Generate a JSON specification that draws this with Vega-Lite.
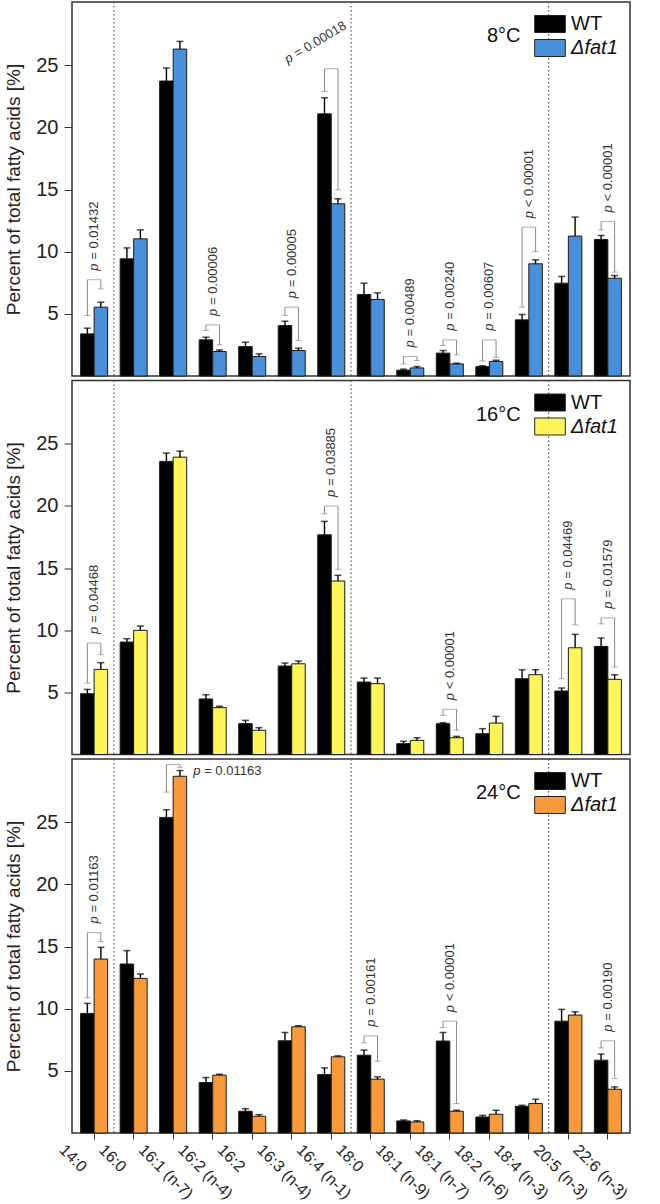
{
  "$schema": "https://vega.github.io/schema/vega-lite/v6.json",
  "padding": {"left": 4, "top": 0, "right": 2, "bottom": 0},
  "spacing": 4.5,
  "bounds": "flush",
  "datasets": {
    "seps": [{"fa": "16:0"}, {"fa": "18:0"}, {"fa": "20:5 (n-3)"}],
    "bars": [
      {"t": "8°C", "fa": "14:0", "g": "WT", "mean": 3.39, "top": 3.85},
      {"t": "8°C", "fa": "14:0", "g": "Δfat1", "mean": 5.54, "top": 5.94},
      {"t": "8°C", "fa": "16:0", "g": "WT", "mean": 9.43, "top": 10.31},
      {"t": "8°C", "fa": "16:0", "g": "Δfat1", "mean": 11.04, "top": 11.76},
      {"t": "8°C", "fa": "16:1 (n-7)", "g": "WT", "mean": 23.74, "top": 24.79},
      {"t": "8°C", "fa": "16:1 (n-7)", "g": "Δfat1", "mean": 26.31, "top": 26.93},
      {"t": "8°C", "fa": "16:2 (n-4)", "g": "WT", "mean": 2.91, "top": 3.12},
      {"t": "8°C", "fa": "16:2 (n-4)", "g": "Δfat1", "mean": 1.97, "top": 2.1},
      {"t": "8°C", "fa": "16:2", "g": "WT", "mean": 2.37, "top": 2.72},
      {"t": "8°C", "fa": "16:2", "g": "Δfat1", "mean": 1.57, "top": 1.78},
      {"t": "8°C", "fa": "16:3 (n-4)", "g": "WT", "mean": 4.06, "top": 4.41},
      {"t": "8°C", "fa": "16:3 (n-4)", "g": "Δfat1", "mean": 2.05, "top": 2.24},
      {"t": "8°C", "fa": "16:4 (n-1)", "g": "WT", "mean": 21.1, "top": 22.39},
      {"t": "8°C", "fa": "16:4 (n-1)", "g": "Δfat1", "mean": 13.86, "top": 14.26},
      {"t": "8°C", "fa": "18:0", "g": "WT", "mean": 6.56, "top": 7.47},
      {"t": "8°C", "fa": "18:0", "g": "Δfat1", "mean": 6.16, "top": 6.69},
      {"t": "8°C", "fa": "18:1 (n-9)", "g": "WT", "mean": 0.47, "top": 0.55},
      {"t": "8°C", "fa": "18:1 (n-9)", "g": "Δfat1", "mean": 0.65, "top": 0.76},
      {"t": "8°C", "fa": "18:1 (n-7)", "g": "WT", "mean": 1.84, "top": 2.05},
      {"t": "8°C", "fa": "18:1 (n-7)", "g": "Δfat1", "mean": 0.97, "top": 1.03},
      {"t": "8°C", "fa": "18:2 (n-6)", "g": "WT", "mean": 0.76, "top": 0.82},
      {"t": "8°C", "fa": "18:2 (n-6)", "g": "Δfat1", "mean": 1.17, "top": 1.27},
      {"t": "8°C", "fa": "18:4 (n-3)", "g": "WT", "mean": 4.52, "top": 4.95},
      {"t": "8°C", "fa": "18:4 (n-3)", "g": "Δfat1", "mean": 9.03, "top": 9.35},
      {"t": "8°C", "fa": "20:5 (n-3)", "g": "WT", "mean": 7.47, "top": 8.01},
      {"t": "8°C", "fa": "20:5 (n-3)", "g": "Δfat1", "mean": 11.26, "top": 12.79},
      {"t": "8°C", "fa": "22:6 (n-3)", "g": "WT", "mean": 10.99, "top": 11.31},
      {"t": "8°C", "fa": "22:6 (n-3)", "g": "Δfat1", "mean": 7.87, "top": 8.09},

      {"t": "16°C", "fa": "14:0", "g": "WT", "mean": 4.89, "top": 5.24},
      {"t": "16°C", "fa": "14:0", "g": "Δfat1", "mean": 6.85, "top": 7.39},
      {"t": "16°C", "fa": "16:0", "g": "WT", "mean": 9.05, "top": 9.32},
      {"t": "16°C", "fa": "16:0", "g": "Δfat1", "mean": 9.99, "top": 10.34},
      {"t": "16°C", "fa": "16:1 (n-7)", "g": "WT", "mean": 23.59, "top": 24.26},
      {"t": "16°C", "fa": "16:1 (n-7)", "g": "Δfat1", "mean": 23.93, "top": 24.42},
      {"t": "16°C", "fa": "16:2 (n-4)", "g": "WT", "mean": 4.47, "top": 4.81},
      {"t": "16°C", "fa": "16:2 (n-4)", "g": "Δfat1", "mean": 3.77, "top": 3.88},
      {"t": "16°C", "fa": "16:2", "g": "WT", "mean": 2.48, "top": 2.75},
      {"t": "16°C", "fa": "16:2", "g": "Δfat1", "mean": 1.95, "top": 2.16},
      {"t": "16°C", "fa": "16:3 (n-4)", "g": "WT", "mean": 7.12, "top": 7.36},
      {"t": "16°C", "fa": "16:3 (n-4)", "g": "Δfat1", "mean": 7.3, "top": 7.52},
      {"t": "16°C", "fa": "16:4 (n-1)", "g": "WT", "mean": 17.68, "top": 18.76},
      {"t": "16°C", "fa": "16:4 (n-1)", "g": "Δfat1", "mean": 13.96, "top": 14.42},
      {"t": "16°C", "fa": "18:0", "g": "WT", "mean": 5.83, "top": 6.15},
      {"t": "16°C", "fa": "18:0", "g": "Δfat1", "mean": 5.7, "top": 6.15},
      {"t": "16°C", "fa": "18:1 (n-9)", "g": "WT", "mean": 0.87, "top": 1.06},
      {"t": "16°C", "fa": "18:1 (n-9)", "g": "Δfat1", "mean": 1.14, "top": 1.35},
      {"t": "16°C", "fa": "18:1 (n-7)", "g": "WT", "mean": 2.48, "top": 2.56},
      {"t": "16°C", "fa": "18:1 (n-7)", "g": "Δfat1", "mean": 1.35, "top": 1.46},
      {"t": "16°C", "fa": "18:2 (n-6)", "g": "WT", "mean": 1.67, "top": 2.08},
      {"t": "16°C", "fa": "18:2 (n-6)", "g": "Δfat1", "mean": 2.53, "top": 3.07},
      {"t": "16°C", "fa": "18:4 (n-3)", "g": "WT", "mean": 6.1, "top": 6.82},
      {"t": "16°C", "fa": "18:4 (n-3)", "g": "Δfat1", "mean": 6.42, "top": 6.82},
      {"t": "16°C", "fa": "20:5 (n-3)", "g": "WT", "mean": 5.11, "top": 5.35},
      {"t": "16°C", "fa": "20:5 (n-3)", "g": "Δfat1", "mean": 8.59, "top": 9.67},
      {"t": "16°C", "fa": "22:6 (n-3)", "g": "WT", "mean": 8.7, "top": 9.37},
      {"t": "16°C", "fa": "22:6 (n-3)", "g": "Δfat1", "mean": 6.05, "top": 6.42},

      {"t": "24°C", "fa": "14:0", "g": "WT", "mean": 9.62, "top": 10.43},
      {"t": "24°C", "fa": "14:0", "g": "Δfat1", "mean": 14.0, "top": 14.94},
      {"t": "24°C", "fa": "16:0", "g": "WT", "mean": 13.6, "top": 14.68},
      {"t": "24°C", "fa": "16:0", "g": "Δfat1", "mean": 12.44, "top": 12.8},
      {"t": "24°C", "fa": "16:1 (n-7)", "g": "WT", "mean": 25.4, "top": 26.02},
      {"t": "24°C", "fa": "16:1 (n-7)", "g": "Δfat1", "mean": 28.71, "top": 29.17},
      {"t": "24°C", "fa": "16:2 (n-4)", "g": "WT", "mean": 4.06, "top": 4.46},
      {"t": "24°C", "fa": "16:2 (n-4)", "g": "Δfat1", "mean": 4.65, "top": 4.73},
      {"t": "24°C", "fa": "16:2", "g": "WT", "mean": 1.75, "top": 1.96},
      {"t": "24°C", "fa": "16:2", "g": "Δfat1", "mean": 1.35, "top": 1.48},
      {"t": "24°C", "fa": "16:3 (n-4)", "g": "WT", "mean": 7.42, "top": 8.09},
      {"t": "24°C", "fa": "16:3 (n-4)", "g": "Δfat1", "mean": 8.55, "top": 8.63},
      {"t": "24°C", "fa": "16:4 (n-1)", "g": "WT", "mean": 4.7, "top": 5.24},
      {"t": "24°C", "fa": "16:4 (n-1)", "g": "Δfat1", "mean": 6.13, "top": 6.21},
      {"t": "24°C", "fa": "18:0", "g": "WT", "mean": 6.26, "top": 6.67},
      {"t": "24°C", "fa": "18:0", "g": "Δfat1", "mean": 4.33, "top": 4.52},
      {"t": "24°C", "fa": "18:1 (n-9)", "g": "WT", "mean": 0.97, "top": 1.05},
      {"t": "24°C", "fa": "18:1 (n-9)", "g": "Δfat1", "mean": 0.89, "top": 0.99},
      {"t": "24°C", "fa": "18:1 (n-7)", "g": "WT", "mean": 7.4, "top": 8.09},
      {"t": "24°C", "fa": "18:1 (n-7)", "g": "Δfat1", "mean": 1.75, "top": 1.83},
      {"t": "24°C", "fa": "18:2 (n-6)", "g": "WT", "mean": 1.29, "top": 1.42},
      {"t": "24°C", "fa": "18:2 (n-6)", "g": "Δfat1", "mean": 1.51, "top": 1.83},
      {"t": "24°C", "fa": "18:4 (n-3)", "g": "WT", "mean": 2.15, "top": 2.23},
      {"t": "24°C", "fa": "18:4 (n-3)", "g": "Δfat1", "mean": 2.37, "top": 2.72},
      {"t": "24°C", "fa": "20:5 (n-3)", "g": "WT", "mean": 9.0, "top": 9.95},
      {"t": "24°C", "fa": "20:5 (n-3)", "g": "Δfat1", "mean": 9.49, "top": 9.76},
      {"t": "24°C", "fa": "22:6 (n-3)", "g": "WT", "mean": 5.86, "top": 6.35},
      {"t": "24°C", "fa": "22:6 (n-3)", "g": "Δfat1", "mean": 3.52, "top": 3.71}
    ],
    "legs": [
      {"t": "8°C", "fa": "14:0", "g": "WT", "cap": 4.87, "top": 7.75},
      {"t": "8°C", "fa": "14:0", "g": "Δfat1", "cap": 7.01, "top": 7.75},
      {"t": "8°C", "fa": "16:2 (n-4)", "g": "WT", "cap": 3.66, "top": 4.11},
      {"t": "8°C", "fa": "16:2 (n-4)", "g": "Δfat1", "cap": 2.51, "top": 4.11},
      {"t": "8°C", "fa": "16:3 (n-4)", "g": "WT", "cap": 4.87, "top": 5.54},
      {"t": "8°C", "fa": "16:3 (n-4)", "g": "Δfat1", "cap": 2.86, "top": 5.54},
      {"t": "8°C", "fa": "16:4 (n-1)", "g": "WT", "cap": 22.9, "top": 24.73},
      {"t": "8°C", "fa": "16:4 (n-1)", "g": "Δfat1", "cap": 14.98, "top": 24.73},
      {"t": "8°C", "fa": "18:1 (n-9)", "g": "WT", "cap": 0.97, "top": 1.57},
      {"t": "8°C", "fa": "18:1 (n-9)", "g": "Δfat1", "cap": 1.25, "top": 1.57},
      {"t": "8°C", "fa": "18:1 (n-7)", "g": "WT", "cap": 2.46, "top": 2.91},
      {"t": "8°C", "fa": "18:1 (n-7)", "g": "Δfat1", "cap": 1.7, "top": 2.91},
      {"t": "8°C", "fa": "18:2 (n-6)", "g": "WT", "cap": 1.2, "top": 2.91},
      {"t": "8°C", "fa": "18:2 (n-6)", "g": "Δfat1", "cap": 1.5, "top": 2.91},
      {"t": "8°C", "fa": "18:4 (n-3)", "g": "WT", "cap": 5.54, "top": 11.98},
      {"t": "8°C", "fa": "18:4 (n-3)", "g": "Δfat1", "cap": 10.02, "top": 11.98},
      {"t": "8°C", "fa": "22:6 (n-3)", "g": "WT", "cap": 11.76, "top": 12.44},
      {"t": "8°C", "fa": "22:6 (n-3)", "g": "Δfat1", "cap": 8.36, "top": 12.44},
      {"t": "16°C", "fa": "14:0", "g": "WT", "cap": 5.75, "top": 8.97},
      {"t": "16°C", "fa": "14:0", "g": "Δfat1", "cap": 8.03, "top": 8.97},
      {"t": "16°C", "fa": "16:4 (n-1)", "g": "WT", "cap": 19.37, "top": 19.99},
      {"t": "16°C", "fa": "16:4 (n-1)", "g": "Δfat1", "cap": 14.9, "top": 19.99},
      {"t": "16°C", "fa": "18:1 (n-7)", "g": "WT", "cap": 3.15, "top": 3.64},
      {"t": "16°C", "fa": "18:1 (n-7)", "g": "Δfat1", "cap": 1.95, "top": 3.64},
      {"t": "16°C", "fa": "20:5 (n-3)", "g": "WT", "cap": 6.1, "top": 12.53},
      {"t": "16°C", "fa": "20:5 (n-3)", "g": "Δfat1", "cap": 10.44, "top": 12.53},
      {"t": "16°C", "fa": "22:6 (n-3)", "g": "WT", "cap": 10.52, "top": 11.0},
      {"t": "16°C", "fa": "22:6 (n-3)", "g": "Δfat1", "cap": 7.04, "top": 11.0},
      {"t": "24°C", "fa": "14:0", "g": "WT", "cap": 10.89, "top": 16.13},
      {"t": "24°C", "fa": "14:0", "g": "Δfat1", "cap": 15.4, "top": 16.13},
      {"t": "24°C", "fa": "16:1 (n-7)", "g": "WT", "cap": 27.44, "top": 29.65},
      {"t": "24°C", "fa": "16:1 (n-7)", "g": "Δfat1", "cap": 29.44, "top": 29.65},
      {"t": "24°C", "fa": "18:0", "g": "WT", "cap": 7.26, "top": 7.82},
      {"t": "24°C", "fa": "18:0", "g": "Δfat1", "cap": 5.78, "top": 7.82},
      {"t": "24°C", "fa": "18:1 (n-7)", "g": "WT", "cap": 8.49, "top": 9.0},
      {"t": "24°C", "fa": "18:1 (n-7)", "g": "Δfat1", "cap": 2.37, "top": 9.0},
      {"t": "24°C", "fa": "22:6 (n-3)", "g": "WT", "cap": 6.85, "top": 7.42},
      {"t": "24°C", "fa": "22:6 (n-3)", "g": "Δfat1", "cap": 4.38, "top": 7.42}
    ],
    "pv": [
      {"t": "8°C", "fa": "14:0", "top": 7.75, "rel": "= 0.01432"},
      {"t": "8°C", "fa": "16:2 (n-4)", "top": 4.11, "rel": "= 0.00006"},
      {"t": "8°C", "fa": "16:3 (n-4)", "top": 5.54, "rel": "= 0.00005"},
      {"t": "8°C", "fa": "18:1 (n-9)", "top": 1.57, "rel": "= 0.00489"},
      {"t": "8°C", "fa": "18:1 (n-7)", "top": 2.91, "rel": "= 0.00240"},
      {"t": "8°C", "fa": "18:2 (n-6)", "top": 2.91, "rel": "= 0.00607"},
      {"t": "8°C", "fa": "18:4 (n-3)", "top": 11.98, "rel": "< 0.00001"},
      {"t": "8°C", "fa": "22:6 (n-3)", "top": 12.44, "rel": "< 0.00001"},
      {"t": "16°C", "fa": "14:0", "top": 8.97, "rel": "= 0.04468"},
      {"t": "16°C", "fa": "16:4 (n-1)", "top": 19.99, "rel": "= 0.03885"},
      {"t": "16°C", "fa": "18:1 (n-7)", "top": 3.64, "rel": "< 0.00001"},
      {"t": "16°C", "fa": "20:5 (n-3)", "top": 12.53, "rel": "= 0.04469"},
      {"t": "16°C", "fa": "22:6 (n-3)", "top": 11.0, "rel": "= 0.01579"},
      {"t": "24°C", "fa": "14:0", "top": 16.13, "rel": "= 0.01163"},
      {"t": "24°C", "fa": "18:0", "top": 7.82, "rel": "= 0.00161"},
      {"t": "24°C", "fa": "18:1 (n-7)", "top": 9.0, "rel": "< 0.00001"},
      {"t": "24°C", "fa": "22:6 (n-3)", "top": 7.42, "rel": "= 0.00190"}
    ],
    "pva": [{"t": "8°C", "fa": "16:4 (n-1)", "y": 27.6, "rel": "= 0.00018"}],
    "pvh": [{"t": "24°C", "fa": "16:1 (n-7)", "y": 29.17, "rel": "= 0.01163"}]
  },
  "vconcat": [
    {
      "width": 558, "height": 374,
      "encoding": {"x": {"field": "fa", "type": "nominal", "scale": {"domain": ["14:0","16:0","16:1 (n-7)","16:2 (n-4)","16:2","16:3 (n-4)","16:4 (n-1)","18:0","18:1 (n-9)","18:1 (n-7)","18:2 (n-6)","18:4 (n-3)","20:5 (n-3)","22:6 (n-3)"], "paddingInner": 0, "paddingOuter": 0.06}, "axis": null}},
      "layer": [
        {"data": {"name": "seps"}, "mark": {"type": "rule", "strokeDash": [1.5, 2.5], "color": "#555", "strokeWidth": 1.2},
         "encoding": {"x": {"field": "fa", "type": "nominal", "bandPosition": 0}}},
        {"data": {"name": "bars"}, "transform": [{"filter": "datum.t === '8°C'"}],
         "mark": {"type": "bar", "stroke": "#1a1a1a", "strokeWidth": 1},
         "encoding": {
           "xOffset": {"field": "g", "type": "nominal", "scale": {"domain": ["WT", "Δfat1"], "paddingInner": 0, "paddingOuter": 0.463}},
           "y": {"field": "mean", "type": "quantitative", "title": "Percent of total fatty acids [%]", "scale": {"domain": [0, 30.1], "nice": false}, "axis": {"values": [5, 10, 15, 20, 25]}},
           "color": {"field": "g", "type": "nominal", "scale": {"domain": ["WT", "Δfat1"], "range": ["#000000", "#4A8FDA"]},
             "legend": {"title": "8°C", "encode": {"labels": {"update": {"fontStyle": {"signal": "datum.value === 'WT' ? 'normal' : 'italic'"}}}}}}
         }},
        {"data": {"name": "bars"}, "transform": [{"filter": "datum.t === '8°C'"}],
         "mark": {"type": "rule", "color": "#000", "strokeWidth": 1.4},
         "encoding": {"xOffset": {"field": "g", "type": "nominal"}, "y": {"field": "mean", "type": "quantitative", "title": "Percent of total fatty acids [%]"}, "y2": {"field": "top"}}},
        {"data": {"name": "bars"}, "transform": [{"filter": "datum.t === '8°C'"}],
         "mark": {"type": "tick", "color": "#000", "size": 7, "thickness": 1.5},
         "encoding": {"xOffset": {"field": "g", "type": "nominal"}, "y": {"field": "top", "type": "quantitative", "title": "Percent of total fatty acids [%]"}}},
        {"data": {"name": "legs"}, "transform": [{"filter": "datum.t === '8°C'"}],
         "mark": {"type": "rule", "color": "#8a8a8a", "strokeWidth": 1},
         "encoding": {"xOffset": {"field": "g", "type": "nominal"}, "y": {"field": "cap", "type": "quantitative", "title": "Percent of total fatty acids [%]"}, "y2": {"field": "top"}}},
        {"data": {"name": "legs"}, "transform": [{"filter": "datum.t === '8°C'"}],
         "mark": {"type": "tick", "color": "#8a8a8a", "size": 6, "thickness": 1},
         "encoding": {"xOffset": {"field": "g", "type": "nominal"}, "y": {"field": "cap", "type": "quantitative", "title": "Percent of total fatty acids [%]"}}},
        {"data": {"name": "legs"}, "transform": [{"filter": "datum.t === '8°C' && datum.g === 'WT'"}],
         "mark": {"type": "tick", "color": "#8a8a8a", "size": 13.5, "thickness": 1},
         "encoding": {"y": {"field": "top", "type": "quantitative", "title": "Percent of total fatty acids [%]"}}},
        {"data": {"name": "pv"}, "transform": [{"filter": "datum.t === '8°C'"}],
         "mark": {"type": "text", "angle": 270, "align": "left", "baseline": "middle", "dx": 9, "fontSize": 13, "fontStyle": "italic", "color": "#333"},
         "encoding": {"y": {"field": "top", "type": "quantitative", "title": "Percent of total fatty acids [%]"}, "text": {"value": "p"}}},
        {"data": {"name": "pv"}, "transform": [{"filter": "datum.t === '8°C'"}],
         "mark": {"type": "text", "angle": 270, "align": "left", "baseline": "middle", "dx": 20, "fontSize": 13, "color": "#333"},
         "encoding": {"y": {"field": "top", "type": "quantitative", "title": "Percent of total fatty acids [%]"}, "text": {"field": "rel"}}},
        {"data": {"name": "pva"}, "transform": [{"filter": "datum.t === '8°C'"}],
         "mark": {"type": "text", "angle": 329, "align": "left", "baseline": "middle", "dx": -53, "fontSize": 13, "fontStyle": "italic", "color": "#333"},
         "encoding": {"y": {"field": "y", "type": "quantitative", "title": "Percent of total fatty acids [%]"}, "text": {"value": "p"}}},
        {"data": {"name": "pva"}, "transform": [{"filter": "datum.t === '8°C'"}],
         "mark": {"type": "text", "angle": 329, "align": "left", "baseline": "middle", "dx": -42, "fontSize": 13, "color": "#333"},
         "encoding": {"y": {"field": "y", "type": "quantitative", "title": "Percent of total fatty acids [%]"}, "text": {"field": "rel"}}}
      ]
    },
    {
      "width": 558, "height": 374,
      "encoding": {"x": {"field": "fa", "type": "nominal", "scale": {"domain": ["14:0","16:0","16:1 (n-7)","16:2 (n-4)","16:2","16:3 (n-4)","16:4 (n-1)","18:0","18:1 (n-9)","18:1 (n-7)","18:2 (n-6)","18:4 (n-3)","20:5 (n-3)","22:6 (n-3)"], "paddingInner": 0, "paddingOuter": 0.06}, "axis": null}},
      "layer": [
        {"data": {"name": "seps"}, "mark": {"type": "rule", "strokeDash": [1.5, 2.5], "color": "#555", "strokeWidth": 1.2},
         "encoding": {"x": {"field": "fa", "type": "nominal", "bandPosition": 0}}},
        {"data": {"name": "bars"}, "transform": [{"filter": "datum.t === '16°C'"}],
         "mark": {"type": "bar", "stroke": "#1a1a1a", "strokeWidth": 1},
         "encoding": {
           "xOffset": {"field": "g", "type": "nominal", "scale": {"domain": ["WT", "Δfat1"], "paddingInner": 0, "paddingOuter": 0.463}},
           "y": {"field": "mean", "type": "quantitative", "title": "Percent of total fatty acids [%]", "scale": {"domain": [0, 30.1], "nice": false}, "axis": {"values": [5, 10, 15, 20, 25]}},
           "color": {"field": "g", "type": "nominal", "scale": {"domain": ["WT", "Δfat1"], "range": ["#000000", "#FFF55A"]},
             "legend": {"title": "16°C", "encode": {"labels": {"update": {"fontStyle": {"signal": "datum.value === 'WT' ? 'normal' : 'italic'"}}}}}}
         }},
        {"data": {"name": "bars"}, "transform": [{"filter": "datum.t === '16°C'"}],
         "mark": {"type": "rule", "color": "#000", "strokeWidth": 1.4},
         "encoding": {"xOffset": {"field": "g", "type": "nominal"}, "y": {"field": "mean", "type": "quantitative", "title": "Percent of total fatty acids [%]"}, "y2": {"field": "top"}}},
        {"data": {"name": "bars"}, "transform": [{"filter": "datum.t === '16°C'"}],
         "mark": {"type": "tick", "color": "#000", "size": 7, "thickness": 1.5},
         "encoding": {"xOffset": {"field": "g", "type": "nominal"}, "y": {"field": "top", "type": "quantitative", "title": "Percent of total fatty acids [%]"}}},
        {"data": {"name": "legs"}, "transform": [{"filter": "datum.t === '16°C'"}],
         "mark": {"type": "rule", "color": "#8a8a8a", "strokeWidth": 1},
         "encoding": {"xOffset": {"field": "g", "type": "nominal"}, "y": {"field": "cap", "type": "quantitative", "title": "Percent of total fatty acids [%]"}, "y2": {"field": "top"}}},
        {"data": {"name": "legs"}, "transform": [{"filter": "datum.t === '16°C'"}],
         "mark": {"type": "tick", "color": "#8a8a8a", "size": 6, "thickness": 1},
         "encoding": {"xOffset": {"field": "g", "type": "nominal"}, "y": {"field": "cap", "type": "quantitative", "title": "Percent of total fatty acids [%]"}}},
        {"data": {"name": "legs"}, "transform": [{"filter": "datum.t === '16°C' && datum.g === 'WT'"}],
         "mark": {"type": "tick", "color": "#8a8a8a", "size": 13.5, "thickness": 1},
         "encoding": {"y": {"field": "top", "type": "quantitative", "title": "Percent of total fatty acids [%]"}}},
        {"data": {"name": "pv"}, "transform": [{"filter": "datum.t === '16°C'"}],
         "mark": {"type": "text", "angle": 270, "align": "left", "baseline": "middle", "dx": 9, "fontSize": 13, "fontStyle": "italic", "color": "#333"},
         "encoding": {"y": {"field": "top", "type": "quantitative", "title": "Percent of total fatty acids [%]"}, "text": {"value": "p"}}},
        {"data": {"name": "pv"}, "transform": [{"filter": "datum.t === '16°C'"}],
         "mark": {"type": "text", "angle": 270, "align": "left", "baseline": "middle", "dx": 20, "fontSize": 13, "color": "#333"},
         "encoding": {"y": {"field": "top", "type": "quantitative", "title": "Percent of total fatty acids [%]"}, "text": {"field": "rel"}}}
      ]
    },
    {
      "width": 558, "height": 374,
      "encoding": {"x": {"field": "fa", "type": "nominal", "scale": {"domain": ["14:0","16:0","16:1 (n-7)","16:2 (n-4)","16:2","16:3 (n-4)","16:4 (n-1)","18:0","18:1 (n-9)","18:1 (n-7)","18:2 (n-6)","18:4 (n-3)","20:5 (n-3)","22:6 (n-3)"], "paddingInner": 0, "paddingOuter": 0.06},
        "title": null,
        "axis": {"labelAngle": 45, "labelAlign": "left", "labelBaseline": "middle", "labelFontSize": 16, "labelOffset": -32, "labelPadding": 8, "tickSize": 6, "labelColor": "#222"}}},
      "layer": [
        {"data": {"name": "seps"}, "mark": {"type": "rule", "strokeDash": [1.5, 2.5], "color": "#555", "strokeWidth": 1.2},
         "encoding": {"x": {"field": "fa", "type": "nominal", "bandPosition": 0, "title": null}}},
        {"data": {"name": "bars"}, "transform": [{"filter": "datum.t === '24°C'"}],
         "mark": {"type": "bar", "stroke": "#1a1a1a", "strokeWidth": 1},
         "encoding": {
           "xOffset": {"field": "g", "type": "nominal", "scale": {"domain": ["WT", "Δfat1"], "paddingInner": 0, "paddingOuter": 0.463}},
           "y": {"field": "mean", "type": "quantitative", "title": "Percent of total fatty acids [%]", "scale": {"domain": [0, 30.1], "nice": false}, "axis": {"values": [5, 10, 15, 20, 25]}},
           "color": {"field": "g", "type": "nominal", "scale": {"domain": ["WT", "Δfat1"], "range": ["#000000", "#F89A3C"]},
             "legend": {"title": "24°C", "encode": {"labels": {"update": {"fontStyle": {"signal": "datum.value === 'WT' ? 'normal' : 'italic'"}}}}}}
         }},
        {"data": {"name": "bars"}, "transform": [{"filter": "datum.t === '24°C'"}],
         "mark": {"type": "rule", "color": "#000", "strokeWidth": 1.4},
         "encoding": {"xOffset": {"field": "g", "type": "nominal"}, "y": {"field": "mean", "type": "quantitative", "title": "Percent of total fatty acids [%]"}, "y2": {"field": "top"}}},
        {"data": {"name": "bars"}, "transform": [{"filter": "datum.t === '24°C'"}],
         "mark": {"type": "tick", "color": "#000", "size": 7, "thickness": 1.5},
         "encoding": {"xOffset": {"field": "g", "type": "nominal"}, "y": {"field": "top", "type": "quantitative", "title": "Percent of total fatty acids [%]"}}},
        {"data": {"name": "legs"}, "transform": [{"filter": "datum.t === '24°C'"}],
         "mark": {"type": "rule", "color": "#8a8a8a", "strokeWidth": 1},
         "encoding": {"xOffset": {"field": "g", "type": "nominal"}, "y": {"field": "cap", "type": "quantitative", "title": "Percent of total fatty acids [%]"}, "y2": {"field": "top"}}},
        {"data": {"name": "legs"}, "transform": [{"filter": "datum.t === '24°C'"}],
         "mark": {"type": "tick", "color": "#8a8a8a", "size": 6, "thickness": 1},
         "encoding": {"xOffset": {"field": "g", "type": "nominal"}, "y": {"field": "cap", "type": "quantitative", "title": "Percent of total fatty acids [%]"}}},
        {"data": {"name": "legs"}, "transform": [{"filter": "datum.t === '24°C' && datum.g === 'WT'"}],
         "mark": {"type": "tick", "color": "#8a8a8a", "size": 13.5, "thickness": 1},
         "encoding": {"y": {"field": "top", "type": "quantitative", "title": "Percent of total fatty acids [%]"}}},
        {"data": {"name": "pv"}, "transform": [{"filter": "datum.t === '24°C'"}],
         "mark": {"type": "text", "angle": 270, "align": "left", "baseline": "middle", "dx": 9, "fontSize": 13, "fontStyle": "italic", "color": "#333"},
         "encoding": {"y": {"field": "top", "type": "quantitative", "title": "Percent of total fatty acids [%]"}, "text": {"value": "p"}}},
        {"data": {"name": "pv"}, "transform": [{"filter": "datum.t === '24°C'"}],
         "mark": {"type": "text", "angle": 270, "align": "left", "baseline": "middle", "dx": 20, "fontSize": 13, "color": "#333"},
         "encoding": {"y": {"field": "top", "type": "quantitative", "title": "Percent of total fatty acids [%]"}, "text": {"field": "rel"}}},
        {"data": {"name": "pvh"}, "transform": [{"filter": "datum.t === '24°C'"}],
         "mark": {"type": "text", "align": "left", "baseline": "middle", "dx": 20, "fontSize": 13, "fontStyle": "italic", "color": "#333"},
         "encoding": {"y": {"field": "y", "type": "quantitative", "title": "Percent of total fatty acids [%]"}, "text": {"value": "p"}}},
        {"data": {"name": "pvh"}, "transform": [{"filter": "datum.t === '24°C'"}],
         "mark": {"type": "text", "align": "left", "baseline": "middle", "dx": 31, "fontSize": 13, "color": "#333"},
         "encoding": {"y": {"field": "y", "type": "quantitative", "title": "Percent of total fatty acids [%]"}, "text": {"field": "rel"}}}
      ]
    }
  ],
  "resolve": {"scale": {"color": "independent"}, "legend": {"color": "independent"}},
  "config": {
    "font": "Liberation Sans",
    "view": {"stroke": "#333", "strokeWidth": 1.5},
    "axis": {"grid": false, "domain": false, "labelFontSize": 20, "titleFontSize": 19, "titleFontWeight": "normal", "labelColor": "#222", "titleColor": "#222", "tickColor": "#333", "tickSize": 8, "tickWidth": 1},
    "axisY": {"labelPadding": 6, "titlePadding": 12},
    "legend": {
      "orient": "top-right", "offset": 12, "padding": 0,
      "labelFontSize": 20, "labelColor": "#111", "labelOffset": 11,
      "titleFontSize": 20, "titleFontWeight": "normal", "titleColor": "#111",
      "titleOrient": "left", "titleAnchor": "middle", "titleBaseline": "middle", "titlePadding": 19,
      "symbolType": "M-1.8,-1H1.8V1H-1.8Z", "symbolSize": 289,
      "symbolStrokeColor": "#222", "symbolStrokeWidth": 1, "symbolOpacity": 1,
      "rowPadding": 2
    }
  }
}
